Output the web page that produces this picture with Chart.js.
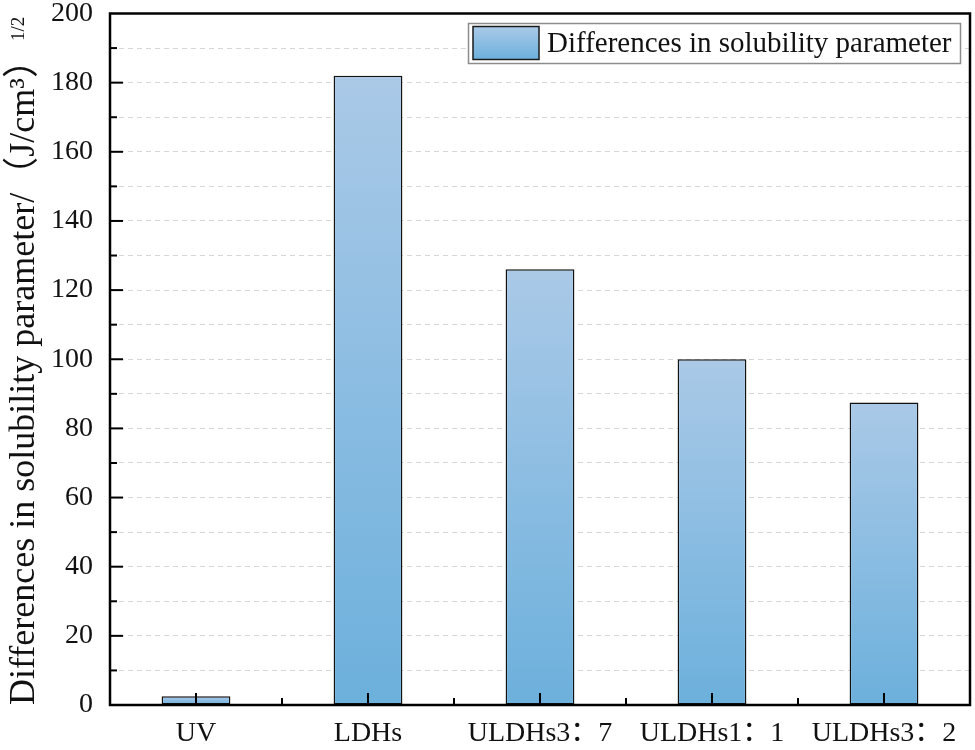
<!DOCTYPE html>
<html>
<head>
<meta charset="utf-8">
<script src="https://cdn.jsdelivr.net/npm/chart.js@4.4.1/dist/chart.umd.min.js"></script>
<style>
  html, body { margin: 0; padding: 0; background: #ffffff; }
  #wrap { width: 975px; height: 750px; position: relative; }
</style>
</head>
<body>
<div id="wrap"><canvas id="c"></canvas></div>
<script>
const categories = ['UV', 'LDHs', 'ULDHs3：7', 'ULDHs1：1', 'ULDHs3：2'];
const values = [2.5, 182, 126, 100, 87.5];
const seriesName = 'Differences in solubility parameter';
const yTitle = 'Differences in solubility parameter/（J/cm³）';
const yTitleSup = '1/2';
const yMin = 0, yMax = 200, yStep = 10, yLabelStep = 20;

const FONT = "'Liberation Serif', 'Times New Roman', 'Noto Sans CJK SC', serif";
const TOP_COLOR = '#aac9e7';
const BOT_COLOR = '#6cb0dc';

function barGradient(ctx2d, y0, y1) {
  const g = ctx2d.createLinearGradient(0, y0, 0, y1);
  g.addColorStop(0, TOP_COLOR);
  g.addColorStop(1, BOT_COLOR);
  return g;
}

const decorPlugin = {
  id: 'decor',
  afterDatasetsDraw(chart) {
    const { ctx, chartArea: a, scales } = chart;
    ctx.save();
    ctx.strokeStyle = '#000';
    ctx.lineCap = 'butt';
    ctx.lineWidth = 2;
    for (let v = yMin + yStep; v < yMax; v += yStep) {
      const y = scales.y.getPixelForValue(v);
      const len = (v % yLabelStep === 0) ? 13 : 7;
      ctx.beginPath();
      ctx.moveTo(a.left, y);
      ctx.lineTo(a.left + len, y);
      ctx.stroke();
    }
    const n = categories.length;
    for (let i = 0; i < n; i++) {
      const x = scales.x.getPixelForValue(i);
      ctx.beginPath();
      ctx.moveTo(x, a.bottom);
      ctx.lineTo(x, a.bottom - 12);
      ctx.stroke();
      if (i < n - 1) {
        const xb = (x + scales.x.getPixelForValue(i + 1)) / 2;
        ctx.beginPath();
        ctx.moveTo(xb, a.bottom);
        ctx.lineTo(xb, a.bottom - 7);
        ctx.stroke();
      }
    }
    ctx.lineWidth = 2.5;
    ctx.strokeRect(a.left, a.top, a.right - a.left, a.bottom - a.top);
    ctx.restore();
  },
  afterDraw(chart) {
    const { ctx } = chart;
    ctx.save();
    const bx = 468, by = 23, bw = 492, bh = 40;
    ctx.fillStyle = '#ffffff';
    ctx.fillRect(bx, by, bw, bh);
    ctx.strokeStyle = '#8c8c8c';
    ctx.lineWidth = 1.5;
    ctx.strokeRect(bx + 0.5, by + 0.5, bw, bh);
    const sx = 473, sy = 26.5, sw = 66, sh = 33;
    ctx.fillStyle = barGradient(ctx, sy, sy + sh);
    ctx.fillRect(sx, sy, sw, sh);
    ctx.strokeStyle = '#1a1a1a';
    ctx.lineWidth = 1.5;
    ctx.strokeRect(sx, sy, sw, sh);
    ctx.fillStyle = '#111';
    ctx.font = '29px ' + FONT;
    ctx.textAlign = 'left';
    ctx.textBaseline = 'middle';
    ctx.fillText(chart.data.datasets[0].label, 547, by + bh / 2 + 1);
    ctx.translate(24, 41);
    ctx.rotate(-Math.PI / 2);
    ctx.font = '19px ' + FONT;
    ctx.textBaseline = 'alphabetic';
    ctx.fillText(yTitleSup, 0, 0);
    ctx.restore();
  }
};

new Chart(document.getElementById('c'), {
  type: 'bar',
  data: {
    labels: categories,
    datasets: [{
      label: seriesName,
      data: values,
      backgroundColor: (c) => {
        const chart = c.chart;
        if (!chart.chartArea || c.raw === undefined) return '#8dbde2';
        const y0 = chart.scales.y.getPixelForValue(c.raw);
        const y1 = chart.scales.y.getPixelForValue(0);
        return barGradient(chart.ctx, y0, y1);
      },
      borderColor: '#111',
      borderWidth: 1.5,
      borderSkipped: false,
      barPercentage: 0.4,
      categoryPercentage: 1.0
    }]
  },
  options: {
    responsive: true,
    maintainAspectRatio: false,
    animation: false,
    devicePixelRatio: 1,
    layout: { padding: { top: 13.5, right: 5, left: 0, bottom: 0 } },
    plugins: {
      legend: { display: false },
      tooltip: { enabled: false }
    },
    scales: {
      x: {
        type: 'category',
        afterFit(s) { s.height = 45; s.paddingLeft = 0; s.paddingRight = 0; },
        grid: { display: false, drawTicks: false },
        border: { display: false },
        ticks: {
          color: '#111',
          font: { family: FONT, size: 28 },
          padding: 12,
          maxRotation: 0,
          autoSkip: false
        }
      },
      y: {
        min: yMin,
        max: yMax,
        afterFit(s) { s.width = 110; s.paddingTop = 0; s.paddingBottom = 0; },
        grid: {
          drawTicks: false,
          lineWidth: 1,
          color: (c) => (c.tick && (c.tick.value === yMin || c.tick.value === yMax)) ? 'rgba(0,0,0,0)' : '#d6d6d6'
        },
        border: { display: false, dash: [5, 4] },
        ticks: {
          stepSize: yStep,
          autoSkip: false,
          color: '#111',
          font: { family: FONT, size: 28 },
          padding: 17,
          callback: (v) => (v % yLabelStep === 0 ? String(v) : '')
        },
        title: {
          display: true,
          text: yTitle,
          align: 'start',
          color: '#111',
          font: { family: FONT, size: 36 },
          padding: { top: 3, bottom: 0 }
        }
      }
    }
  },
  plugins: [decorPlugin]
});
</script>
</body>
</html>
